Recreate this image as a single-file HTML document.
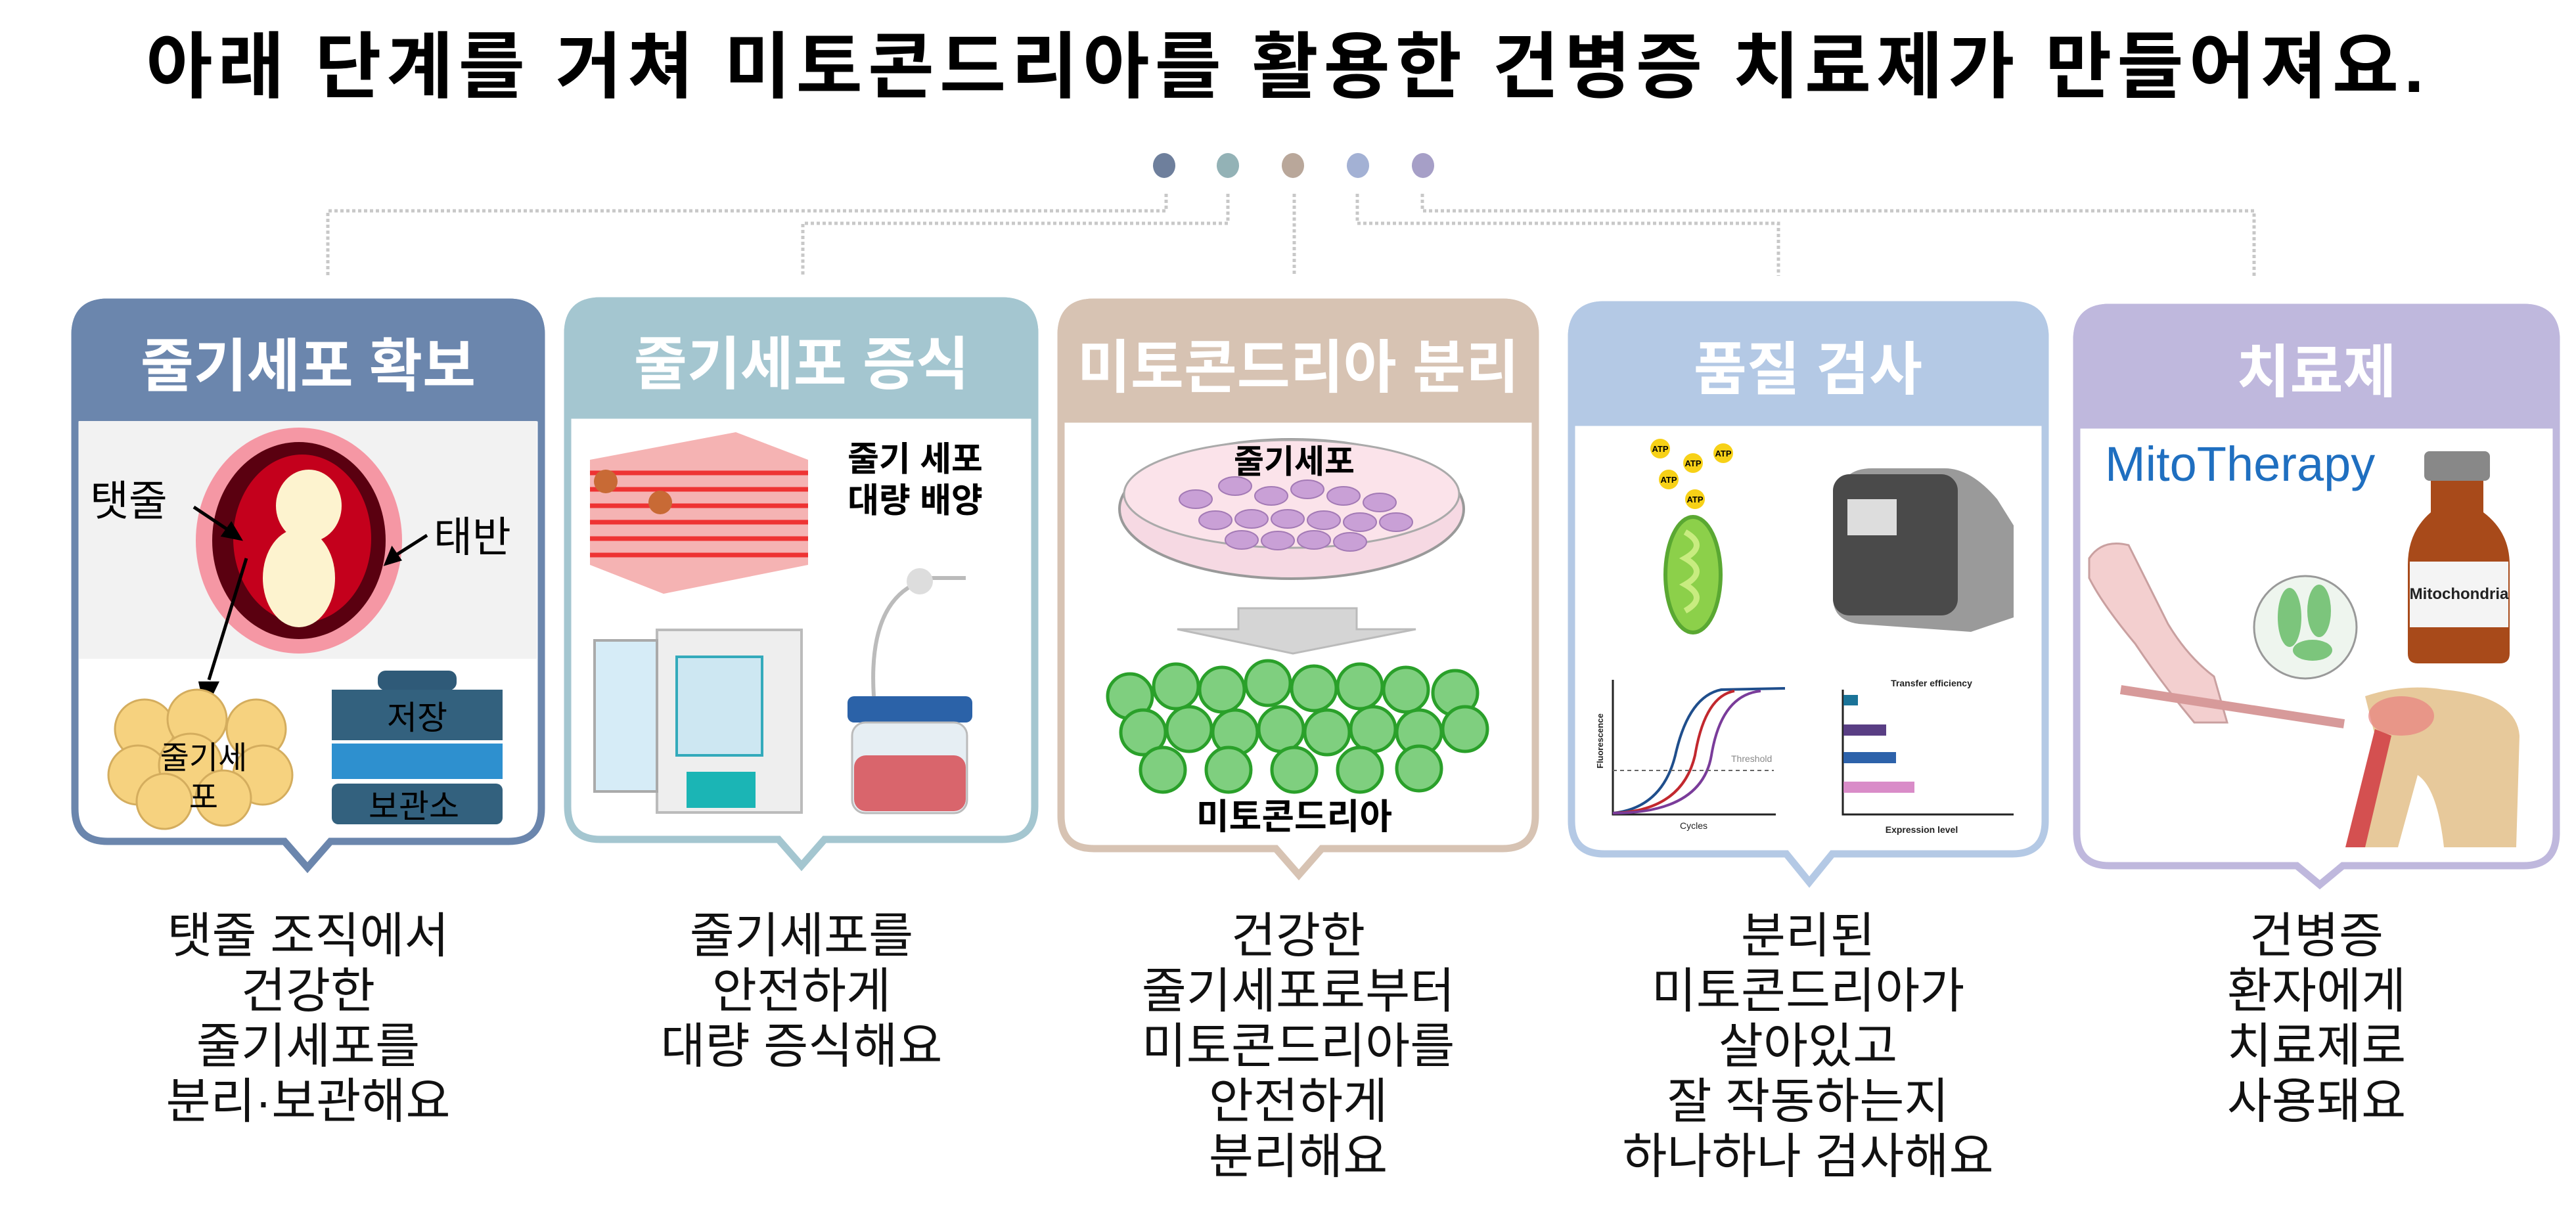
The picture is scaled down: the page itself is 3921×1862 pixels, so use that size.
<!DOCTYPE html>
<html><head><meta charset="utf-8"><style>
html,body{margin:0;padding:0;background:#fff;}
svg{display:block;}
text{font-family:"Liberation Sans","Noto Sans CJK KR",sans-serif;}
</style></head><body>
<svg width="3921" height="1862" viewBox="0 0 3921 1862" xmlns="http://www.w3.org/2000/svg">
<text x="1960" y="140" text-anchor="middle" font-size="110" letter-spacing="8" font-weight="bold" fill="#000">아래 단계를 거쳐 미토콘드리아를 활용한 건병증 치료제가 만들어져요.</text>
<ellipse cx="1772" cy="252" rx="17" ry="19" fill="#6e7f9c"/>
<ellipse cx="1869" cy="252" rx="17" ry="19" fill="#93b2b6"/>
<ellipse cx="1968" cy="252" rx="17" ry="19" fill="#b9a79a"/>
<ellipse cx="2067" cy="252" rx="17" ry="19" fill="#a3b1d4"/>
<ellipse cx="2166" cy="252" rx="17" ry="19" fill="#a69fc7"/>
<g fill="none" stroke="#c8c8c8" stroke-width="5" stroke-dasharray="5,4">
<path d="M1775 295 V321 H499 V420"/>
<path d="M1869 295 V340 H1222 V420"/>
<path d="M1970 295 V420"/>
<path d="M2066 295 V340 H2707 V420"/>
<path d="M2165 295 V321 H3431 V420"/>
</g>
<g stroke-width="11">
<path d="M164 460 H774 Q824 460 824 510 V1231 Q824 1281 774 1281 H503 L468 1321 L433 1281 H164 Q114 1281 114 1231 V510 Q114 460 164 460 Z" fill="#fff" stroke="#6b86ad"/>
<path d="M114 636 V510 Q114 460 164 460 H774 Q824 460 824 510 V636 Z" fill="#6b86ad" stroke="#6b86ad"/>
<path d="M914 458 H1525 Q1575 458 1575 508 V1228 Q1575 1278 1525 1278 H1255 L1220 1318 L1185 1278 H914 Q864 1278 864 1228 V508 Q864 458 914 458 Z" fill="#fff" stroke="#a4c6d0"/>
<path d="M864 632 V508 Q864 458 914 458 H1525 Q1575 458 1575 508 V632 Z" fill="#a4c6d0" stroke="#a4c6d0"/>
<path d="M1665 460 H2287 Q2337 460 2337 510 V1242 Q2337 1292 2287 1292 H2012 L1977 1332 L1942 1292 H1665 Q1615 1292 1615 1242 V510 Q1615 460 1665 460 Z" fill="#fff" stroke="#d7c3b3"/>
<path d="M1615 638 V510 Q1615 460 1665 460 H2287 Q2337 460 2337 510 V638 Z" fill="#d7c3b3" stroke="#d7c3b3"/>
<path d="M2442 464 H3063 Q3113 464 3113 514 V1250 Q3113 1300 3063 1300 H2789 L2754 1343 L2719 1300 H2442 Q2392 1300 2392 1250 V514 Q2392 464 2442 464 Z" fill="#fff" stroke="#b4c9e5"/>
<path d="M2392 643 V514 Q2392 464 2442 464 H3063 Q3113 464 3113 514 V643 Z" fill="#b4c9e5" stroke="#b4c9e5"/>
<path d="M3211 468 H3841 Q3891 468 3891 518 V1268 Q3891 1318 3841 1318 H3566 L3531 1347 L3496 1318 H3211 Q3161 1318 3161 1268 V518 Q3161 468 3211 468 Z" fill="#fff" stroke="#bfb8dd"/>
<path d="M3161 647 V518 Q3161 468 3211 468 H3841 Q3891 468 3891 518 V647 Z" fill="#bfb8dd" stroke="#bfb8dd"/>
</g>
<g font-size="88" font-weight="bold" fill="#fff" text-anchor="middle">
<text x="469" y="588">줄기세포 확보</text>
<text x="1220" y="585">줄기세포 증식</text>
<text x="1976" y="590">미토콘드리아 분리</text>
<text x="2752" y="593">품질 검사</text>
<text x="3526" y="597">치료제</text>
</g>
<rect x="120" y="641" width="697" height="362" fill="#f2f2f2"/>
<ellipse cx="455" cy="823" rx="157" ry="172" fill="#f597a4"/>
<ellipse cx="455" cy="823" rx="132" ry="150" fill="#5a0010"/>
<ellipse cx="460" cy="820" rx="105" ry="128" fill="#c4001c"/>
<ellipse cx="470" cy="770" rx="50" ry="55" fill="#fdf3cf"/>
<ellipse cx="455" cy="880" rx="55" ry="75" fill="#fdf3cf"/>
<text x="137" y="785" font-size="64" fill="#000">탯줄</text>
<text x="660" y="840" font-size="64" fill="#000">태반</text>
<g stroke="#000" stroke-width="5" fill="#000">
<line x1="295" y1="772" x2="355" y2="812"/>
<path d="M365 820 L340 815 L352 798 Z"/>
<line x1="650" y1="815" x2="595" y2="850"/>
<path d="M588 858 L597 836 L608 852 Z"/>
<line x1="375" y1="850" x2="318" y2="1035"/>
<path d="M305 1040 L330 1040 L313 1075 Z"/>
</g>
<g fill="#f6d27f" stroke="#d4ad5e" stroke-width="3">
<circle cx="220" cy="1110" r="45"/><circle cx="300" cy="1095" r="45"/><circle cx="390" cy="1110" r="45"/>
<circle cx="210" cy="1180" r="45"/><circle cx="290" cy="1165" r="48"/><circle cx="400" cy="1180" r="45"/>
<circle cx="250" cy="1220" r="42"/><circle cx="340" cy="1215" r="42"/>
</g>
<text x="310" y="1170" font-size="48" text-anchor="middle" fill="#000">줄기세</text>
<text x="310" y="1230" font-size="48" text-anchor="middle" fill="#000">포</text>
<rect x="575" y="1021" width="120" height="30" rx="12" fill="#2f5a78"/>
<path d="M505 1050 H765 V1127 H505 Z" fill="#33617e"/>
<rect x="505" y="1132" width="260" height="54" fill="#2e90cf"/>
<rect x="505" y="1193" width="260" height="62" rx="10" fill="#33617e"/>
<text x="635" y="1110" font-size="50" text-anchor="middle" fill="#000">저장</text>
<text x="630" y="1245" font-size="50" text-anchor="middle" fill="#000">보관소</text>
<g>
<path d="M898 700 L1120 658 L1230 700 L1230 860 L1010 904 L898 860 Z" fill="#f5b3b3"/>
<g stroke="#e33" stroke-width="7">
<line x1="898" y1="720" x2="1230" y2="720"/><line x1="898" y1="745" x2="1230" y2="745"/><line x1="898" y1="770" x2="1230" y2="770"/><line x1="898" y1="795" x2="1230" y2="795"/><line x1="898" y1="820" x2="1230" y2="820"/><line x1="898" y1="845" x2="1230" y2="845"/>
</g>
<circle cx="922" cy="733" r="18" fill="#c86a35"/><circle cx="1005" cy="765" r="18" fill="#c86a35"/>
<text x="1393" y="717" font-size="52" font-weight="bold" text-anchor="middle" fill="#000">줄기 세포</text>
<text x="1393" y="780" font-size="52" font-weight="bold" text-anchor="middle" fill="#000">대량 배양</text>
<rect x="1000" y="959" width="220" height="278" fill="#eee" stroke="#bbb" stroke-width="4"/>
<rect x="905" y="975" width="95" height="230" fill="#d6ecf7" stroke="#aaa" stroke-width="4"/>
<rect x="1030" y="1000" width="130" height="150" fill="#cde7f2" stroke="#3ab" stroke-width="4"/>
<rect x="1045" y="1175" width="105" height="55" fill="#1bb5b5"/>
<rect x="1290" y="1060" width="190" height="40" rx="10" fill="#2b62a8"/>
<rect x="1297" y="1100" width="175" height="138" rx="20" fill="#e6eef3" stroke="#bbb" stroke-width="3"/>
<rect x="1300" y="1150" width="170" height="85" rx="18" fill="#d9656c"/>
<path d="M1330 1060 Q1320 900 1420 880 L1470 880" fill="none" stroke="#bbb" stroke-width="6"/>
<circle cx="1400" cy="885" r="20" fill="#ddd"/>
</g>
<ellipse cx="1966" cy="775" rx="262" ry="106" fill="#f6d9e3" stroke="#999" stroke-width="4"/>
<ellipse cx="1966" cy="752" rx="255" ry="82" fill="#fbe3ea" stroke="#aaa" stroke-width="3"/>
<g fill="#c9a0d6" stroke="#a37ab5" stroke-width="2">
<ellipse cx="1820" cy="760" rx="25" ry="14"/><ellipse cx="1880" cy="740" rx="25" ry="14"/><ellipse cx="1935" cy="755" rx="25" ry="14"/><ellipse cx="1990" cy="745" rx="25" ry="14"/><ellipse cx="2045" cy="755" rx="25" ry="14"/><ellipse cx="2100" cy="765" rx="25" ry="14"/>
<ellipse cx="1850" cy="792" rx="25" ry="14"/><ellipse cx="1905" cy="790" rx="25" ry="14"/><ellipse cx="1960" cy="790" rx="25" ry="14"/><ellipse cx="2015" cy="792" rx="25" ry="14"/><ellipse cx="2070" cy="795" rx="25" ry="14"/><ellipse cx="2125" cy="795" rx="25" ry="14"/>
<ellipse cx="1890" cy="822" rx="25" ry="14"/><ellipse cx="1945" cy="823" rx="25" ry="14"/><ellipse cx="2000" cy="822" rx="25" ry="14"/><ellipse cx="2055" cy="825" rx="25" ry="14"/>
</g>
<text x="1970" y="720" font-size="50" font-weight="bold" text-anchor="middle" fill="#000">줄기세포</text>
<path d="M1885 926 H2065 V958 H2155 L1968 995 L1792 958 H1885 Z" fill="#d5d5d5" stroke="#bbb" stroke-width="3"/>
<g fill="#7fcf7f" stroke="#2aa02a" stroke-width="5">
<circle cx="1720" cy="1060" r="34"/><circle cx="1790" cy="1045" r="34"/><circle cx="1860" cy="1050" r="34"/><circle cx="1930" cy="1040" r="34"/><circle cx="2000" cy="1048" r="34"/><circle cx="2070" cy="1045" r="34"/><circle cx="2140" cy="1050" r="34"/><circle cx="2215" cy="1055" r="34"/>
<circle cx="1740" cy="1115" r="34"/><circle cx="1810" cy="1110" r="34"/><circle cx="1880" cy="1115" r="34"/><circle cx="1950" cy="1110" r="34"/><circle cx="2020" cy="1115" r="34"/><circle cx="2090" cy="1110" r="34"/><circle cx="2160" cy="1115" r="34"/><circle cx="2230" cy="1110" r="34"/>
<circle cx="1770" cy="1172" r="34"/><circle cx="1870" cy="1172" r="34"/><circle cx="1970" cy="1172" r="34"/><circle cx="2070" cy="1172" r="34"/><circle cx="2160" cy="1170" r="34"/>
</g>
<text x="1970" y="1262" font-size="54" font-weight="bold" text-anchor="middle" fill="#000">미토콘드리아</text>
<g fill="#f7d117"><circle cx="2527" cy="683" r="15"/><circle cx="2577" cy="705" r="15"/><circle cx="2623" cy="690" r="15"/><circle cx="2540" cy="730" r="15"/><circle cx="2580" cy="760" r="15"/></g>
<g font-size="13" font-weight="bold" text-anchor="middle" fill="#000"><text x="2527" y="688">ATP</text><text x="2577" y="710">ATP</text><text x="2623" y="695">ATP</text><text x="2540" y="735">ATP</text><text x="2580" y="765">ATP</text></g>
<ellipse cx="2577" cy="875" rx="42" ry="88" fill="#8cd04a" stroke="#5aa832" stroke-width="6"/>
<path d="M2565 810 Q2600 830 2565 850 Q2600 870 2565 890 Q2600 910 2565 930" fill="none" stroke="#c8ec80" stroke-width="9"/>
<path d="M2800 760 Q2800 713 2850 713 L2960 713 Q3000 713 3040 760 L3065 800 V940 L3000 962 L2830 950 Q2790 945 2790 910 Z" fill="#9a9a9a"/>
<rect x="2790" y="722" width="190" height="215" rx="25" fill="#4a4a4a"/>
<rect x="2812" y="760" width="75" height="55" fill="#ddd"/>
<g stroke="#222" stroke-width="3" fill="none">
<path d="M2455 1035 V1240 H2703"/>
<path d="M2455 1238 Q2530 1230 2550 1150 Q2570 1060 2620 1050 L2717 1048" stroke="#1f4e8c" stroke-width="4"/>
<path d="M2455 1238 Q2560 1235 2580 1150 Q2595 1060 2640 1052" stroke="#c2282e" stroke-width="4"/>
<path d="M2455 1238 Q2590 1238 2605 1150 Q2620 1058 2680 1052" stroke="#7a3c9a" stroke-width="4"/>
<line x1="2455" y1="1173" x2="2700" y2="1173" stroke="#666" stroke-dasharray="6,5" stroke-width="2"/>
<path d="M2805 1050 V1240 H3065"/>
</g>
<text x="2635" y="1160" font-size="14" fill="#888">Threshold</text>
<text x="2578" y="1262" font-size="14" text-anchor="middle" fill="#222">Cycles</text>
<text x="2440" y="1170" font-size="13" fill="#222" transform="rotate(-90 2440 1170)" font-weight="bold">Fluorescence</text>
<text x="2940" y="1045" font-size="14" text-anchor="middle" font-weight="bold" fill="#222">Transfer efficiency</text>
<rect x="2806" y="1058" width="22" height="16" fill="#1a7398"/>
<rect x="2806" y="1103" width="65" height="17" fill="#593e84"/>
<rect x="2806" y="1145" width="80" height="17" fill="#2d62aa"/>
<rect x="2806" y="1190" width="108" height="17" fill="#d98cc8"/>
<text x="2925" y="1268" font-size="14" text-anchor="middle" fill="#222" font-weight="bold">Expression level</text>
<text x="3204" y="732" font-size="74" fill="#1f6fc0">MitoTherapy</text>
<rect x="3690" y="687" width="100" height="45" rx="8" fill="#888"/>
<path d="M3700 732 H3780 V780 Q3820 810 3820 860 V995 Q3820 1010 3805 1010 H3680 Q3665 1010 3665 995 V860 Q3665 810 3700 780 Z" fill="#a84a1a"/>
<rect x="3668" y="855" width="150" height="100" fill="#f4f4f4"/>
<text x="3743" y="912" font-size="24" font-weight="bold" text-anchor="middle" fill="#222">Mitochondria</text>
<path d="M3180 850 Q3200 820 3240 830 L3300 950 Q3330 1000 3370 1030 L3390 1100 L3340 1100 Q3290 1040 3250 980 Q3200 920 3180 880 Z" fill="#f3cfcf" stroke="#c9a0a0" stroke-width="3"/>
<line x1="3228" y1="1050" x2="3568" y2="1102" stroke="#d79a9a" stroke-width="14"/>
<circle cx="3509" cy="955" r="78" fill="#eef5ee" stroke="#999" stroke-width="3"/>
<ellipse cx="3485" cy="940" rx="18" ry="45" fill="#7cc57c"/><ellipse cx="3530" cy="930" rx="18" ry="40" fill="#7cc57c"/><ellipse cx="3520" cy="990" rx="30" ry="16" fill="#7cc57c"/>
<path d="M3600 1060 Q3660 1040 3720 1050 Q3830 1060 3835 1120 L3830 1290 L3720 1290 Q3710 1200 3680 1180 L3650 1290 L3590 1290 Q3600 1200 3620 1140 Z" fill="#e7c99b"/>
<path d="M3640 1120 L3600 1290 L3570 1290 L3615 1110 Z" fill="#d45050"/>
<ellipse cx="3655" cy="1090" rx="50" ry="30" fill="#e88080" opacity="0.7"/>
<g font-size="74" fill="#111" text-anchor="middle">
<text x="469" y="1450">탯줄 조직에서</text><text x="469" y="1534">건강한</text><text x="469" y="1618">줄기세포를</text><text x="469" y="1702">분리·보관해요</text>
<text x="1220" y="1450">줄기세포를</text><text x="1220" y="1534">안전하게</text><text x="1220" y="1618">대량 증식해요</text>
<text x="1976" y="1450">건강한</text><text x="1976" y="1534">줄기세포로부터</text><text x="1976" y="1618">미토콘드리아를</text><text x="1976" y="1702">안전하게</text><text x="1976" y="1786">분리해요</text>
<text x="2752" y="1450">분리된</text><text x="2752" y="1534">미토콘드리아가</text><text x="2752" y="1618">살아있고</text><text x="2752" y="1702">잘 작동하는지</text><text x="2752" y="1786">하나하나 검사해요</text>
<text x="3526" y="1450">건병증</text><text x="3526" y="1534">환자에게</text><text x="3526" y="1618">치료제로</text><text x="3526" y="1702">사용돼요</text>
</g>
</svg>
</body></html>
